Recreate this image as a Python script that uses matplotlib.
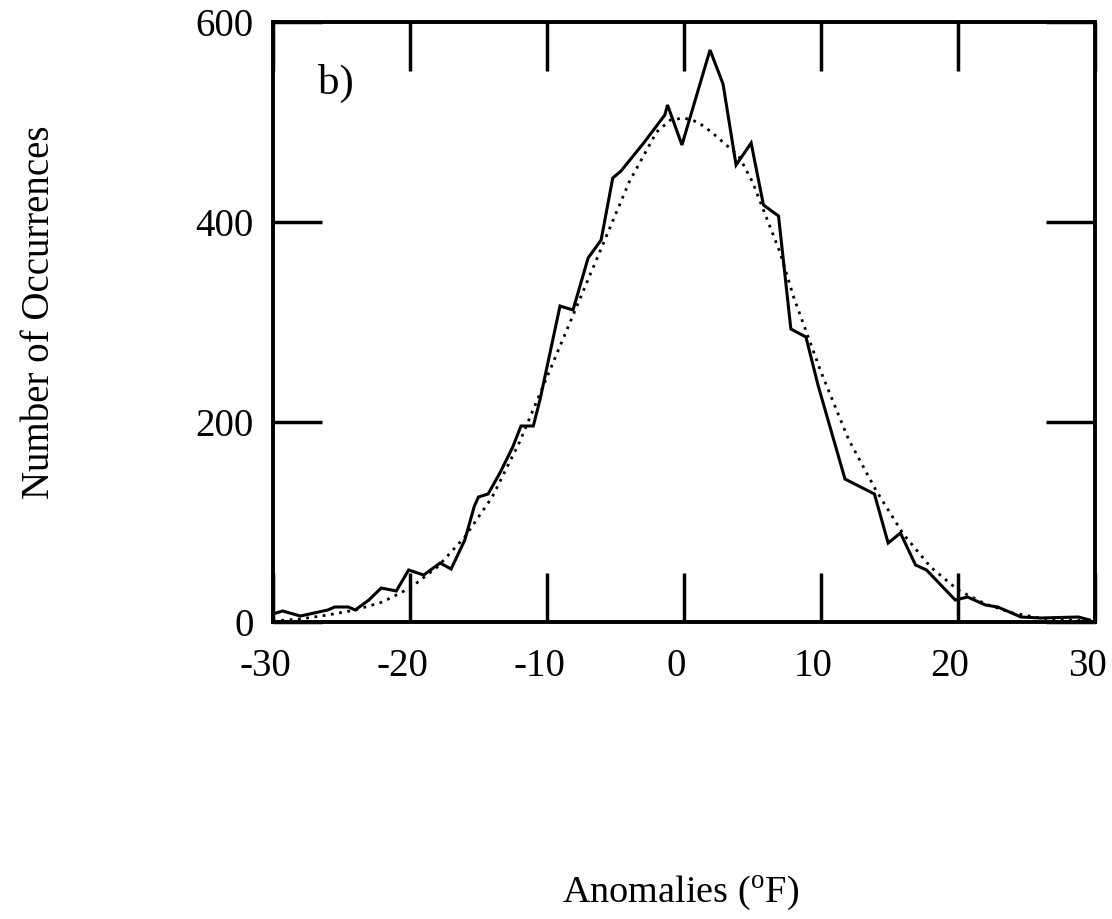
import matplotlib
matplotlib.use('Agg')
import matplotlib.pyplot as plt
from matplotlib.transforms import ScaledTranslation

plt.rcParams['font.family'] = ['Liberation Serif', 'DejaVu Serif']
plt.rcParams['mathtext.fontset'] = 'custom'
plt.rcParams['mathtext.rm'] = 'Liberation Serif'
plt.rcParams['axes.unicode_minus'] = False

obs_x = [-30, -29.3, -28, -27, -26, -25.5, -24.5, -24, -23, -22.1, -21, -20.1, -19,
         -17.8, -17, -16, -15.3, -15, -14.3, -13.4, -12.5, -11.9, -11, -10.5,
         -9.05, -8.1, -7, -6.05, -5.2, -4.6, -3, -1.4, -1.2, -0.15, 1.9, 2.85,
         3.8, 4.9, 5.8, 6.9, 7.8, 8.9, 9.8, 11.75, 13.9, 14.9, 15.8, 16.9, 17.7,
         19.8, 20.7, 22, 22.9, 24.6, 26, 28.8, 29.6]
obs_y = [8, 11, 6, 9, 12, 15, 15, 12, 22, 34, 31, 52, 47,
         59, 53, 82, 116, 125, 128, 150, 175, 196, 196, 223,
         316, 312, 364, 382, 444, 451, 478, 507, 517, 477, 572, 538,
         457, 479, 417, 406, 293, 285, 236, 143, 128, 79, 89, 57, 52,
         22, 25, 17, 15, 5, 4, 5, 2]

# fitted curve (dotted line)
fit_x = [-30, -28, -26, -24, -22, -20, -18, -16, -14, -12, -10, -8, -6, -4, -2, -1,
         0, 1, 2, 3, 4, 5, 6, 7, 8, 10, 12, 14, 16, 18, 20, 22, 24, 26, 28, 30]
fit_y = [1, 3, 7, 12, 20, 34, 55, 85, 125, 180, 245, 310, 375, 440, 490, 502,
         504, 500, 490, 478, 466, 440, 405, 370, 325, 250, 183, 132, 88, 55, 32,
         18, 9, 4, 2, 1]

x_ticks = [-30, -20, -10, 0, 10, 20, 30]
y_ticks = [0, 200, 400, 600]

fig = plt.figure(figsize=(11.12, 9.19), dpi=100)
ax = fig.add_axes([273 / 1112, 1 - 622 / 919, (1095 - 273) / 1112, (622 - 22) / 919])

ax.plot(obs_x, obs_y, color='black', lw=2.2, solid_joinstyle='miter')
ax.plot(fit_x, fit_y, color='black', lw=2.0, linestyle=(0, (1, 2.0)))

ax.set_xlim(-30, 30)
ax.set_ylim(0, 600)
ax.set_xticks(x_ticks)
ax.set_yticks(y_ticks)
ax.tick_params(direction='in', length=35, width=2.5, labelsize=28,
               top=True, right=True, pad=14)
ax.tick_params(axis='x', pad=19)
for s in ax.spines.values():
    s.set_linewidth(2.8)

# x labels in the scan sit a little left of their ticks
shift = ScaledTranslation(-0.08, 0, fig.dpi_scale_trans)
for lab in ax.get_xticklabels():
    lab.set_transform(lab.get_transform() + shift)

ax.text(0.055, 0.897, 'b)', transform=ax.transAxes, fontsize=31, va='center', ha='left')

fig.text(40 / 1112, 1 - 312 / 919, 'Number of Occurrences', rotation=90,
         fontsize=28, ha='center', va='center')
fig.text(681 / 1112, 1 - 893 / 919, r'Anomalies ($^{\mathrm{o}}$F)',
         fontsize=27.5, ha='center', va='center')

plt.savefig('out.png', dpi=100)
plt.close()
